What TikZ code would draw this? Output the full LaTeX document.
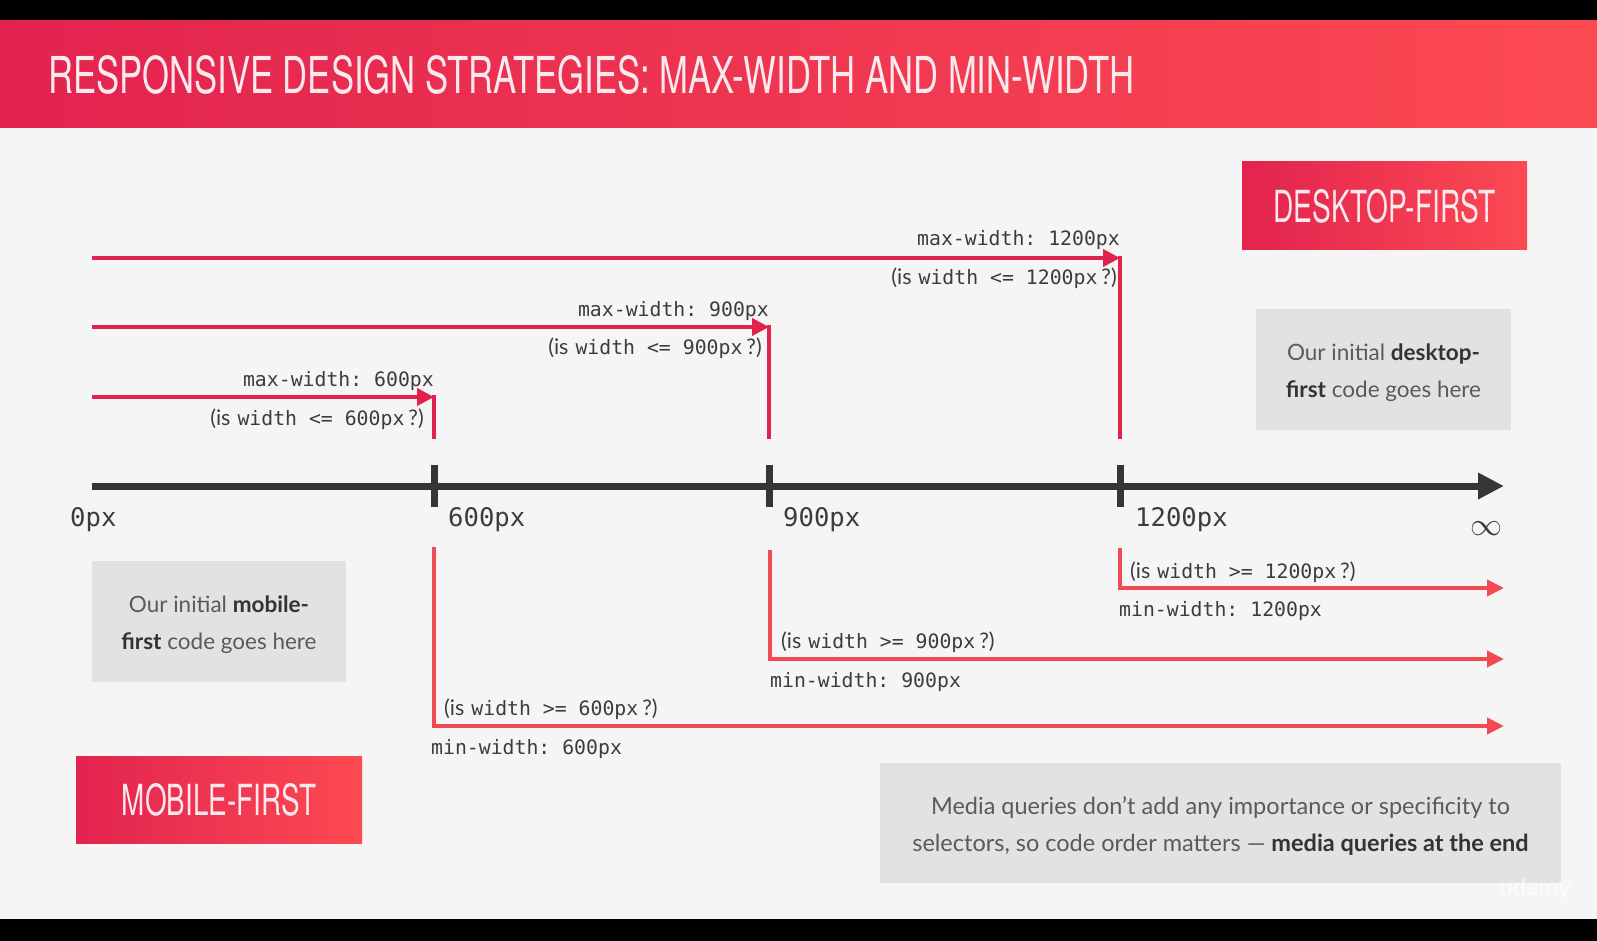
\documentclass[tikz,border=0pt]{standalone}
\usepackage{fontspec}
\usepackage{graphicx}
\setmainfont{Lato}
\setsansfont{Lato}
\setmonofont{DejaVu Sans Mono}
\newfontfamily\headfont{TeX Gyre Heros}
\usetikzlibrary{arrows.meta}

\definecolor{bg}{HTML}{F5F5F5}
\definecolor{maxred}{HTML}{E0224C}
\definecolor{minred}{HTML}{F24A55}
\definecolor{axisgray}{HTML}{363636}
\definecolor{boxgray}{HTML}{E2E2E2}
\definecolor{gradL}{HTML}{E2234F}
\definecolor{gradR}{HTML}{FC4A52}
\definecolor{bodytxt}{HTML}{5A5A5A}
\definecolor{boldtxt}{HTML}{333333}
\definecolor{monotxt}{HTML}{3C3C3C}
\definecolor{headtxt}{HTML}{FBE9EE}

% monospaced label text and the "(is width ... ?)" questions
\newcommand{\monolbl}{\fontsize{19.8}{24}\selectfont\ttfamily\color{monotxt}}
\newcommand{\query}[1]{{\fontsize{21.5}{24}\selectfont\sffamily(is}\hspace{7pt}{\monolbl #1}\hspace{4pt}{\fontsize{21.5}{24}\selectfont\sffamily ?)}}
\newcommand{\headtext}[3]{\resizebox{#1}{#2}{\headfont #3}}

\tikzset{
  maxline/.style={draw=maxred, line width=4pt},
  minline/.style={draw=minred, line width=4pt, line join=miter},
  maxtip/.style={-{Triangle[length=17pt,width=17pt]}},
  mintip/.style={-{Triangle[length=17pt,width=16pt]}},
  axisline/.style={draw=axisgray, line width=7pt, -{Triangle[length=26pt,width=25pt]}},
  axistick/.style={draw=axisgray, line width=7pt},
  axislbl/.style={inner sep=0pt, anchor=base west, font=\fontsize{25.6}{28}\selectfont\ttfamily, text=monotxt},
  lblR/.style={inner sep=0pt, anchor=base east, text=monotxt},
  lblL/.style={inner sep=0pt, anchor=base west, text=monotxt},
  graybox/.style={fill=boxgray, inner sep=0pt, align=center, text=bodytxt,
    font=\fontsize{22.5}{37}\selectfont},
  redbox/.style={left color=gradL, right color=gradR, inner sep=0pt, text=headtxt},
}

\begin{document}
\begin{tikzpicture}[x=1pt, y=-1pt]
\useasboundingbox (0,0) rectangle (1597,941);

% frame, page and header band
\fill[black] (0,0) rectangle (1597,941);
\fill[bg] (0,21) rectangle (1597,919);
\shade[left color=gradL, right color=gradR] (0,21) rectangle (1597,128);
\node[inner sep=0pt, anchor=west, text=headtxt] (title) at (48,75)
  {\headtext{1086pt}{38pt}{RESPONSIVE DESIGN STRATEGIES: MAX-WIDTH AND MIN-WIDTH}};

% axis
\coordinate (ax0) at (92,486);
\coordinate (axend) at (1504,486);
\coordinate (t600) at (434,486);
\coordinate (t900) at (769,486);
\coordinate (t1200) at (1120,486);
\draw[axisline] (ax0) -- (axend);
\foreach \t in {t600,t900,t1200}
  \draw[axistick] ([yshift=21pt]\t) -- ([yshift=-21pt]\t);

\node[axislbl] (l0) at (70,526) {0px};
\node[axislbl] (l600) at (448,526) {600px};
\node[axislbl] (l900) at (783,526) {900px};
\node[axislbl] (l1200) at (1135,526) {1200px};
\node[inner sep=0pt, text=monotxt] (inf) at (1486,529) {\resizebox{32pt}{!}{$\infty$}};

% desktop-first: max-width queries
\coordinate (m600s) at (92,397);   \coordinate (m600c) at (434,397);   \coordinate (m600e) at (434,439);
\coordinate (m900s) at (92,327);   \coordinate (m900c) at (769,327);   \coordinate (m900e) at (769,439);
\coordinate (m1200s) at (92,258);  \coordinate (m1200c) at (1120,258); \coordinate (m1200e) at (1120,439);
\foreach \m in {m600,m900,m1200}{
  \draw[maxline] ([yshift=2pt]\m c) -- (\m e);
  \draw[maxline, maxtip] (\m s) -- (\m c);
}
\node[lblR] (mx600) at (434,386) {\monolbl max-width: 600px};
\node[lblR] (q600) at (424,425) {\query{width <= 600px}};
\node[lblR] (mx900) at (769,316) {\monolbl max-width: 900px};
\node[lblR] (q900) at (762,354) {\query{width <= 900px}};
\node[lblR] (mx1200) at (1120,246) {\monolbl max-width: 1200px};
\node[lblR] (q1200) at (1117,284) {\query{width <= 1200px}};

% mobile-first: min-width queries
\coordinate (n600s) at (434,547);  \coordinate (n600e) at (1504,726);
\coordinate (n900s) at (770,550);  \coordinate (n900e) at (1504,659);
\coordinate (n1200s) at (1120,548); \coordinate (n1200e) at (1504,588);
\foreach \n in {n600,n900,n1200}
  \draw[minline, mintip] (\n s) |- (\n e);
\node[lblL] (p600) at (444,715) {\query{width >= 600px}};
\node[lblL] (mn600) at (431,754) {\monolbl min-width: 600px};
\node[lblL] (p900) at (781,648) {\query{width >= 900px}};
\node[lblL] (mn900) at (770,687) {\monolbl min-width: 900px};
\node[lblL] (p1200) at (1130,578) {\query{width >= 1200px}};
\node[lblL] (mn1200) at (1119,616) {\monolbl min-width: 1200px};

% strategy badges
\node[redbox, minimum width=285pt, minimum height=88pt] (desk) at (1384.5,206)
  {\headtext{222pt}{33pt}{DESKTOP-FIRST}};
\node[redbox, minimum width=286pt, minimum height=87pt] (mob) at (219,799.5)
  {\headtext{194pt}{32pt}{MOBILE-FIRST}};

% notes
\node[graybox, minimum width=255pt, minimum height=121pt] (deskcode) at (1383.5,369.5)
  {\rule{0pt}{24pt}Our initial {\bfseries\color{boldtxt}desktop-}\\{\bfseries\color{boldtxt}first} code goes here};
\node[graybox, minimum width=254pt, minimum height=121pt] (mobcode) at (219,621.5)
  {\rule{0pt}{24pt}Our initial {\bfseries\color{boldtxt}mobile-}\\{\bfseries\color{boldtxt}first} code goes here};
\node[graybox, font=\fontsize{23.5}{37}\selectfont, minimum width=681pt, minimum height=120pt] (note) at (1220.5,823)
  {\rule{0pt}{24pt}Media queries don't add any importance or specificity to\\selectors, so code order matters --- {\bfseries\color{boldtxt}media queries at the end}};

\node[inner sep=0pt, text=white, opacity=0.75, font=\fontsize{24}{24}\selectfont\sffamily] (mark) at (1535,889) {udemy};
\end{tikzpicture}
\end{document}
